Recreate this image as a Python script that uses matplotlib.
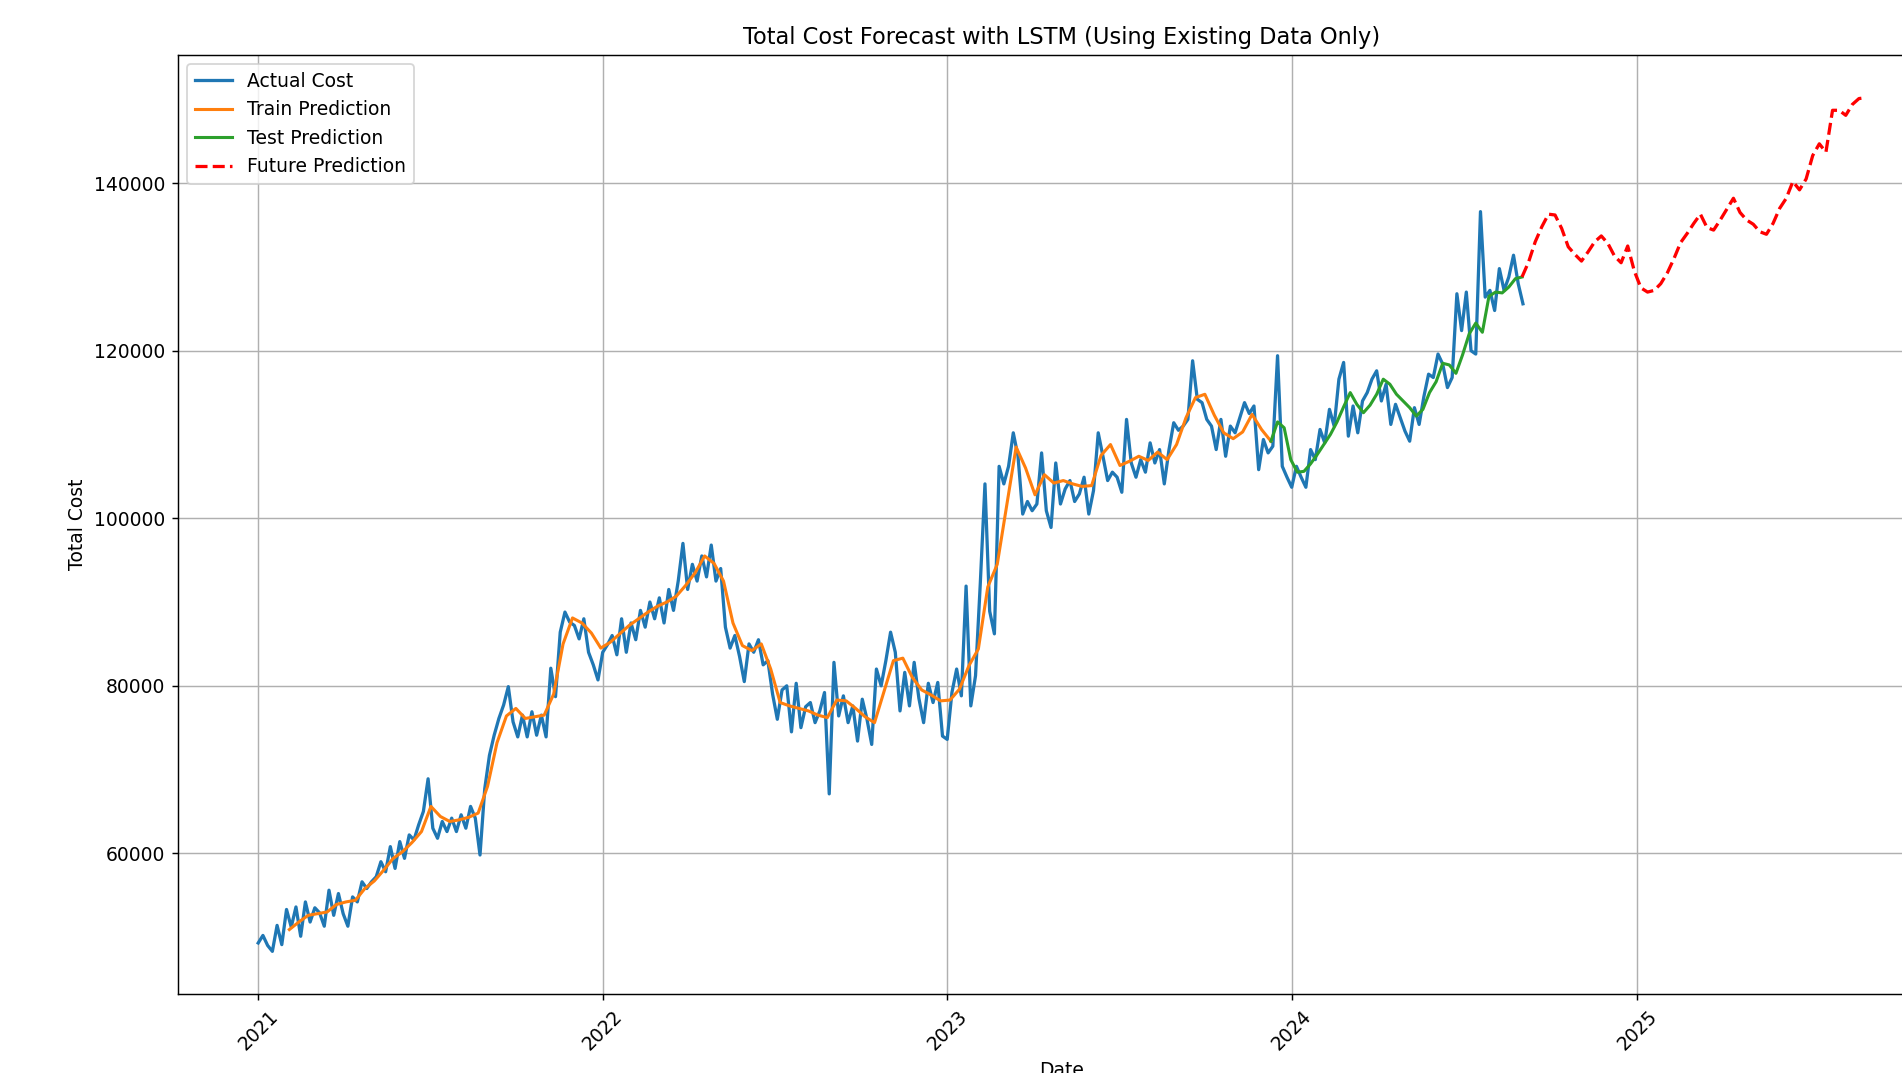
import pandas as pd
import matplotlib
matplotlib.use('Agg')
import matplotlib.pyplot as plt

# Observed total cost, one reading every 5 days from 2021-01-01
actual_cost = [
    49300, 50200, 49000, 48300, 51400, 49100,
    53300, 51200, 53600, 50100, 54200, 51800,
    53500, 52900, 51300, 55600, 52600, 55200,
    52800, 51300, 54800, 54200, 56600, 55800,
    56600, 57200, 59000, 57800, 60800, 58200,
    61400, 59400, 62200, 61600, 63400, 65000,
    68900, 63000, 61800, 63800, 62600, 64200,
    62600, 64600, 63000, 65600, 64200, 59800,
    67700, 71700, 74100, 76100, 77700, 79900,
    75700, 73900, 76500, 73900, 76900, 74100,
    76500, 73900, 82100, 78700, 86400, 88800,
    87600, 87200, 85600, 88000, 84000, 82500,
    80700, 84000, 84900, 86000, 83700, 88000,
    84000, 87500, 85500, 89000, 87000, 90000,
    88000, 90500, 87500, 91500, 89000, 92500,
    97000, 91500, 94500, 92500, 95500, 93000,
    96800, 92500, 94000, 87000, 84500, 86000,
    83500, 80500, 85000, 84000, 85500, 82500,
    83000, 79000, 76000, 79500, 80000, 74500,
    80300, 75000, 77500, 78000, 75600, 77000,
    79200, 67100, 82800, 76400, 78800, 75600,
    77600, 73400, 78400, 76000, 73000, 82000,
    80000, 83000, 86400, 84000, 77000, 81600,
    77600, 82800, 78500, 75600, 80300, 78000,
    80400, 74000, 73600, 79200, 82000, 78800,
    91900, 77600, 81200, 92100, 104100, 88900,
    86200, 106200, 104100, 106200, 110200, 107400,
    100500, 102000, 100900, 101700, 107800, 100900,
    98900, 106600, 101700, 103500, 104500, 102000,
    102900, 104900, 100500, 103300, 110200, 107400,
    104500, 105500, 104900, 103100, 111800, 106600,
    104900, 107000, 105500, 109000, 106600, 108200,
    104100, 108200, 111400, 110500, 111000, 111800,
    118800, 114200, 113800, 111800, 111000, 108200,
    111800, 107400, 111000, 110200, 112000, 113800,
    112500, 113400, 105800, 109400, 107800, 108600,
    119400, 106200, 104900, 103700, 106200, 104900,
    103700, 108200, 107000, 110600, 109000, 113000,
    111000, 116600, 118600, 109800, 113400, 110200,
    114000, 115000, 116600, 117600, 114000, 116000,
    111200, 113600, 112000, 110400, 109200, 113200,
    111200, 114500, 117200, 116800, 119600, 118400,
    115600, 116800, 126800, 122400, 127000, 120000,
    119600, 136600, 126400, 127200, 124800, 129800,
    127200, 128800, 131400, 128000, 125600,
]

# LSTM output on the training window (every 10 days)
train_pred = [
    50900, 51800, 52600, 52800, 53000, 53900, 54200, 54400, 55800, 56700,
    58000, 59400, 60200, 61300, 62600, 65600, 64400, 63800, 64000, 64300,
    64800, 68000, 73200, 76400, 77300, 76100, 76300, 76500, 79000, 85000,
    88100, 87500, 86300, 84500, 85200, 86200, 87200, 88000, 88800, 89500,
    90000, 90700, 92000, 93500, 95500, 94600, 92500, 87500, 84800, 84200,
    85000, 82000, 78000, 77600, 77300, 77000, 76500, 76200, 78300, 78200,
    77300, 76300, 75600, 79300, 83000, 83300, 81000, 79500, 78900, 78200,
    78300, 79600, 82400, 84400, 91800, 94500, 101500, 108500, 106000, 102800,
    105200, 104200, 104500, 104100, 103800, 103900, 107500, 108800, 106300, 106800,
    107400, 106900, 107900, 107000, 108800, 112000, 114400, 114800, 112300, 110200,
    109500, 110300, 112400, 110600, 109200,
]

# LSTM output on the held-out window (weekly)
test_pred = [
    109200, 111500, 110800, 107000, 105500, 105600, 106500, 107600, 108800, 110000,
    111500, 113300, 115000, 113600, 112600, 113500, 114800, 116600, 116000, 114800,
    114000, 113200, 112200, 113000, 115000, 116300, 118500, 118300, 117300, 119500,
    122000, 123300, 122200, 126500, 127000, 126900, 127600, 128600, 128800,
]

# Recursive forecast for the next 52 weeks
future_pred = [
    128800, 130600, 133000, 134800, 136300, 136200, 134600, 132400, 131500, 130700,
    131800, 133000, 133700, 132800, 131300, 130500, 132500, 129500, 127500, 127000,
    127200, 128000, 129300, 131000, 132900, 134000, 135200, 136300, 134700, 134400,
    135600, 136900, 138200, 136500, 135600, 135100, 134200, 133900, 135200, 137000,
    138200, 140200, 139200, 140500, 143300, 144700, 143700, 148700, 148700, 148100,
    149400, 150100, 150200,
]

actual_dates = pd.date_range('2021-01-01', periods=len(actual_cost), freq='5D')
train_dates = pd.date_range('2021-02-03', periods=len(train_pred), freq='10D')
test_dates = pd.date_range('2023-12-10', periods=len(test_pred), freq='7D')
future_dates = pd.date_range('2024-09-01', periods=len(future_pred), freq='7D')

plt.rcParams['font.size'] = 10.4

fig = plt.figure(figsize=(1902 / 130, 1073 / 130), dpi=130)
ax = fig.add_axes([0.0935, 0.0736, 0.9296, 0.8751])

ax.plot(actual_dates, actual_cost, linewidth=1.8, label='Actual Cost')
ax.plot(train_dates, train_pred, linewidth=1.7, label='Train Prediction')
ax.plot(test_dates, test_pred, linewidth=1.7, label='Test Prediction')
ax.plot(future_dates, future_pred, 'r--', linewidth=1.8, label='Future Prediction')

ax.set_title('Total Cost Forecast with LSTM (Using Existing Data Only)')
ax.set_xlabel('Date')
ax.set_ylabel('Total Cost')
ax.legend(loc='upper left')
ax.grid(True)
plt.setp(ax.get_xticklabels(), rotation=45)

fig.savefig('out.png', dpi=130)
plt.close(fig)
